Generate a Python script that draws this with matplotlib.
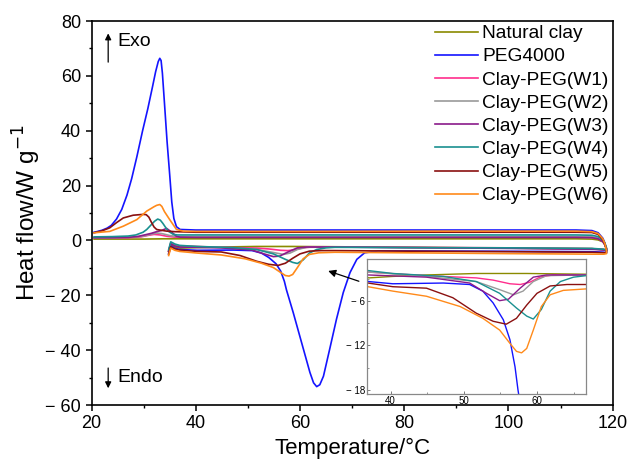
# DSC curves: natural clay, PEG4000 and clay-PEG composites

import numpy as np
from matplotlib import pyplot as plt
from matplotlib.ticker import MultipleLocator, FuncFormatter

plt.rcParams['font.family'] = ['Liberation Sans', 'DejaVu Sans']

labels = ['Natural clay', 'PEG4000', 'Clay-PEG(W1)', 'Clay-PEG(W2)',
          'Clay-PEG(W3)', 'Clay-PEG(W4)', 'Clay-PEG(W5)', 'Clay-PEG(W6)']
colors = ['#8a8a00', '#1414ff', '#ff2d8c', '#9a9a9a',
          '#8a1a8a', '#1a9090', '#8a1010', '#ff8a1a']

# heating scan (lower band), temperature / heat flow
clay_hT = [34.8, 35.2, 36.0, 37.0, 40.3, 44.9, 51.7, 58.6, 66.7, 80, 100, 116, 118.3, 118.8]
clay_hY = [-4.0, -1.6, -2.4, -2.8, -2.6, -2.4, -2.2, -2.2, -2.3, -2.5, -2.8, -3.0, -3.3, -3.8]
peg_hT = [34.8, 35.2, 36.0, 37.0, 40.3, 47.2, 50.8, 52.6, 54.0, 55.4, 56.3, 57.0, 57.4, 58.7,
          60.3, 61.9, 62.6, 63.2, 63.8, 64.5, 65.7, 67.0, 68.3, 69.6, 70.9, 72.4, 75, 90, 105,
          116, 118.3, 118.8]
peg_hY = [-4.8, -2.0, -2.9, -3.3, -3.6, -3.5, -3.7, -4.6, -6.2, -8.5, -11.2, -14.9, -18.0, -26.3,
          -37.2, -48.1, -51.9, -53.3, -52.6, -49.5, -39.6, -28.7, -19.0, -11.7, -6.9, -4.5, -3.8,
          -3.9, -4.0, -4.1, -4.3, -4.6]
w1_hT = [34.8, 35.2, 36.0, 36.8, 44.9, 51.7, 54.0, 56.3, 57.7, 59.0, 60.4, 62.2, 66.7, 80, 100, 116, 118.3, 118.8]
w1_hY = [-3.8, -1.0, -1.7, -2.0, -2.5, -2.8, -3.1, -3.6, -3.7, -3.4, -2.7, -2.4, -2.4, -2.5, -2.7, -3.0, -3.3, -3.7]
w2_hT = [34.8, 35.2, 36.0, 36.9, 44.9, 51.7, 54.9, 56.8, 58.1, 59.5, 61.3, 66.7, 80, 100, 116, 118.3, 118.8]
w2_hY = [-3.8, -1.0, -1.7, -2.0, -2.6, -3.3, -4.4, -5.1, -4.6, -3.3, -2.5, -2.4, -2.6, -2.8, -3.1, -3.4, -3.8]
w3_hT = [34.8, 35.2, 36.0, 36.9, 44.9, 50.8, 53.1, 54.9, 56.1, 57.7, 59.5, 61.3, 66.7, 80, 100, 116, 118.3, 118.8]
w3_hY = [-4.0, -1.2, -2.0, -2.4, -2.7, -3.5, -4.9, -5.9, -5.7, -4.2, -2.7, -2.4, -2.4, -2.6, -2.9, -3.2, -3.5, -3.9]
w4_hT = [34.8, 35.2, 36.0, 36.9, 40.3, 47.2, 51.7, 54.9, 57.2, 58.6, 59.5, 60.6, 61.8, 63.2, 65.0,
         66.7, 80, 100, 116, 118.3, 118.8]
w4_hY = [-3.4, -0.5, -1.3, -1.8, -2.2, -2.6, -3.3, -4.9, -6.9, -8.0, -8.4, -7.1, -4.6, -3.3, -2.7,
         -2.5, -2.6, -2.7, -2.9, -3.2, -3.6]
w5_hT = [34.8, 35.2, 36.0, 36.9, 40.3, 44.9, 48.5, 51.7, 54.0, 55.8, 57.2, 58.6, 60.0, 61.8, 64.1,
         66.7, 80, 100, 116, 118.3, 118.8]
w5_hY = [-5.0, -2.3, -3.1, -3.5, -4.0, -4.2, -5.5, -7.6, -8.7, -9.1, -8.3, -6.5, -4.9, -3.9, -3.7,
         -3.7, -3.9, -4.1, -4.3, -4.5, -4.5]
w6_hT = [34.8, 35.2, 36.0, 36.9, 40.3, 44.9, 49.5, 52.6, 54.9, 56.3, 57.2, 57.9, 58.6, 59.5, 60.6,
         61.8, 63.6, 66.7, 80, 100, 116, 118.3, 118.8]
w6_hY = [-5.5, -2.8, -3.6, -4.0, -4.6, -5.3, -6.7, -8.3, -9.9, -11.7, -12.8, -13.0, -12.4, -9.9, -6.7,
         -5.1, -4.5, -4.3, -4.5, -4.8, -5.0, -5.0, -4.8]

# cooling scan (upper band)
clay_cT = [118.8, 118.5, 118.1, 117.2, 116, 113, 90, 60, 40, 34, 30, 25, 20.5]
clay_cY = [-3.0, -1.5, -0.5, 0.2, 0.5, 0.6, 0.6, 0.6, 0.6, 0.6, 0.5, 0.5, 0.5]
peg_cT = [118.8, 118.5, 118.1, 117.2, 116.0, 113, 90, 60, 40, 37.0, 36.3, 35.8, 35.4, 35.0, 34.5,
          34.0, 33.6, 33.35, 33.1, 32.8, 32.3, 31.7, 30.8, 29.8, 28.7, 27.7, 26.8, 25.8, 24.8,
          23.8, 23.0, 22.0, 21.0, 20.5]
peg_cY = [-3.5, -1.0, 0.8, 2.8, 3.6, 3.8, 3.8, 3.8, 3.8, 4.0, 5.0, 8.0, 14, 24, 36,
          50, 61, 65.6, 66.4, 65.2, 61.5, 56, 48, 40, 30.5, 22.5, 16.5, 11.3, 7.8,
          5.5, 4.5, 3.7, 3.2, 3.0]
w1_cT = [118.8, 118.5, 118.1, 117.2, 116, 113, 90, 60, 40, 36, 34.5, 33.2, 32, 31, 29.5, 27, 20.5]
w1_cY = [-3.0, -1.6, -0.4, 0.7, 1.1, 1.2, 1.2, 1.2, 1.2, 1.2, 1.5, 2.0, 2.2, 1.9, 1.3, 1.0, 1.0]
w2_cT = [118.8, 118.5, 118.1, 117.2, 116, 113, 90, 60, 40, 36.5, 35, 33.5, 32.5, 31.5, 30, 28, 24, 20.5]
w2_cY = [-3.0, -1.5, -0.2, 0.9, 1.3, 1.4, 1.4, 1.4, 1.4, 1.4, 1.8, 2.5, 2.7, 2.3, 1.6, 1.2, 1.0, 1.0]
w3_cT = [118.8, 118.5, 118.1, 117.2, 116, 113, 90, 60, 40, 37, 36.3, 35.4, 34.4, 33.4, 32.5, 31.5,
         30.6, 29, 27, 24, 20.5]
w3_cY = [-3.0, -1.6, -0.4, 0.6, 1.0, 1.1, 1.1, 1.1, 1.1, 1.2, 1.5, 3.0, 4.4, 3.6, 3.2, 2.6,
         2.2, 1.5, 1.1, 1.0, 1.0]
w4_cT = [118.8, 118.5, 118.1, 117.2, 116, 113, 90, 60, 40, 36.5, 35.7, 34.7, 33.7, 33.2, 32.7, 32.1,
         31.5, 30.6, 29.9, 28.5, 27, 24, 20.5]
w4_cY = [-2.7, -1.0, 0.2, 1.4, 1.9, 2.0, 2.0, 2.0, 2.0, 2.0, 2.2, 3.4, 6.2, 7.4, 7.8, 7.0,
         5.8, 4.0, 3.0, 2.0, 1.6, 1.4, 1.3]
w5_cT = [118.8, 118.5, 118.1, 117.2, 116, 113, 90, 60, 40, 36, 34.4, 33.4, 32.5, 32.0, 31.5, 31.0,
         30.5, 29.9, 28.0, 26.1, 24.8, 23.5, 22.0, 20.5]
w5_cY = [-3.7, -1.4, 0.3, 2.2, 2.9, 3.0, 3.0, 3.0, 3.0, 3.2, 3.4, 3.7, 4.0, 4.9, 6.6, 8.5,
         9.4, 9.5, 9.2, 8.2, 6.5, 4.6, 3.5, 2.8]
w6_cT = [118.8, 118.5, 118.1, 117.2, 116, 113, 90, 60, 40, 37.6, 36.3, 35.0, 34.0, 33.5, 33.1, 32.5,
         32.0, 30.6, 28.7, 26.1, 23.5, 20.5]
w6_cY = [-3.8, -1.2, 0.6, 2.5, 3.2, 3.4, 3.4, 3.3, 3.3, 3.4, 4.0, 7.6, 10.5, 12.4, 13.1, 12.8,
         12.3, 10.7, 7.6, 5.2, 3.3, 2.8]

heat_T = [clay_hT, peg_hT, w1_hT, w2_hT, w3_hT, w4_hT, w5_hT, w6_hT]
heat_Y = [clay_hY, peg_hY, w1_hY, w2_hY, w3_hY, w4_hY, w5_hY, w6_hY]
cool_T = [clay_cT, peg_cT, w1_cT, w2_cT, w3_cT, w4_cT, w5_cT, w6_cT]
cool_Y = [clay_cY, peg_cY, w1_cY, w2_cY, w3_cY, w4_cY, w5_cY, w6_cY]


def minus_fmt(v, pos):
    if v < 0:
        return '\u2212 %g' % abs(v)
    return '%g' % v


fig = plt.figure(figsize=(6.39, 4.65), dpi=100)
ax = fig.add_axes([0.1432, 0.129, 0.8157, 0.8258])

for i in range(len(labels)):
    T = heat_T[i] + cool_T[i]
    Y = heat_Y[i] + cool_Y[i]
    ax.plot(T, Y, color=colors[i], lw=1.2, label=labels[i])

ax.set_xlim(20, 120)
ax.set_ylim(-60, 80)
ax.xaxis.set_major_locator(MultipleLocator(20))
ax.xaxis.set_minor_locator(MultipleLocator(10))
ax.yaxis.set_major_locator(MultipleLocator(20))
ax.yaxis.set_minor_locator(MultipleLocator(10))
ax.yaxis.set_major_formatter(FuncFormatter(minus_fmt))
ax.tick_params(which='major', direction='out', length=4, width=1.1, labelsize=13)
ax.tick_params(which='minor', direction='out', length=2.5, width=1.0)
for s in ax.spines.values():
    s.set_linewidth(1.2)
ax.set_xlabel('Temperature/\u00b0C', fontsize=16, labelpad=4)
ax.set_ylabel('Heat flow/W g$^{-1}$', fontsize=17.5, labelpad=2)

leg = ax.legend(loc='upper right', bbox_to_anchor=(1.0, 1.0), frameon=False, fontsize=13.8,
                handlelength=2.2, handletextpad=0.25, labelspacing=0.3, borderaxespad=0.1,
                borderpad=0.1)

# Exo / Endo markers
ax.annotate('', xy=(23.2, 76.5), xytext=(23.2, 64),
            arrowprops=dict(arrowstyle='-|>', color='k', lw=0.9, mutation_scale=9))
ax.text(25.0, 72.4, 'Exo', fontsize=14, va='center', ha='left')
ax.annotate('', xy=(23.2, -54.9), xytext=(23.2, -45.5),
            arrowprops=dict(arrowstyle='-|>', color='k', lw=0.9, mutation_scale=9))
ax.text(25.0, -49.8, 'Endo', fontsize=14, va='center', ha='left')

# pointer to the zoomed region
ax.annotate('', xy=(64.9, -10.8), xytext=(71.8, -15.2),
            arrowprops=dict(arrowstyle='-|>', color='k', lw=0.9, mutation_scale=11))

# inset: melting region
axin = fig.add_axes([0.5743, 0.1527, 0.3427, 0.2903])
for i in range(len(labels)):
    axin.plot(heat_T[i], heat_Y[i], color=colors[i], lw=1.0)
axin.set_xlim(36.76, 66.7)
axin.set_ylim(-18.6, -0.23)
axin.xaxis.set_major_locator(MultipleLocator(10))
axin.xaxis.set_minor_locator(MultipleLocator(5))
axin.yaxis.set_major_locator(MultipleLocator(6))
axin.yaxis.set_minor_locator(MultipleLocator(3))
axin.yaxis.set_major_formatter(FuncFormatter(minus_fmt))
axin.tick_params(which='major', direction='in', length=2.5, width=0.6, labelsize=7, pad=1.5,
                 color='#666666')
axin.tick_params(which='minor', direction='in', length=1.5, width=0.5, color='#666666')
for s in axin.spines.values():
    s.set_linewidth(0.9)
    s.set_color('#888888')

plt.savefig('out.png', dpi=100)
